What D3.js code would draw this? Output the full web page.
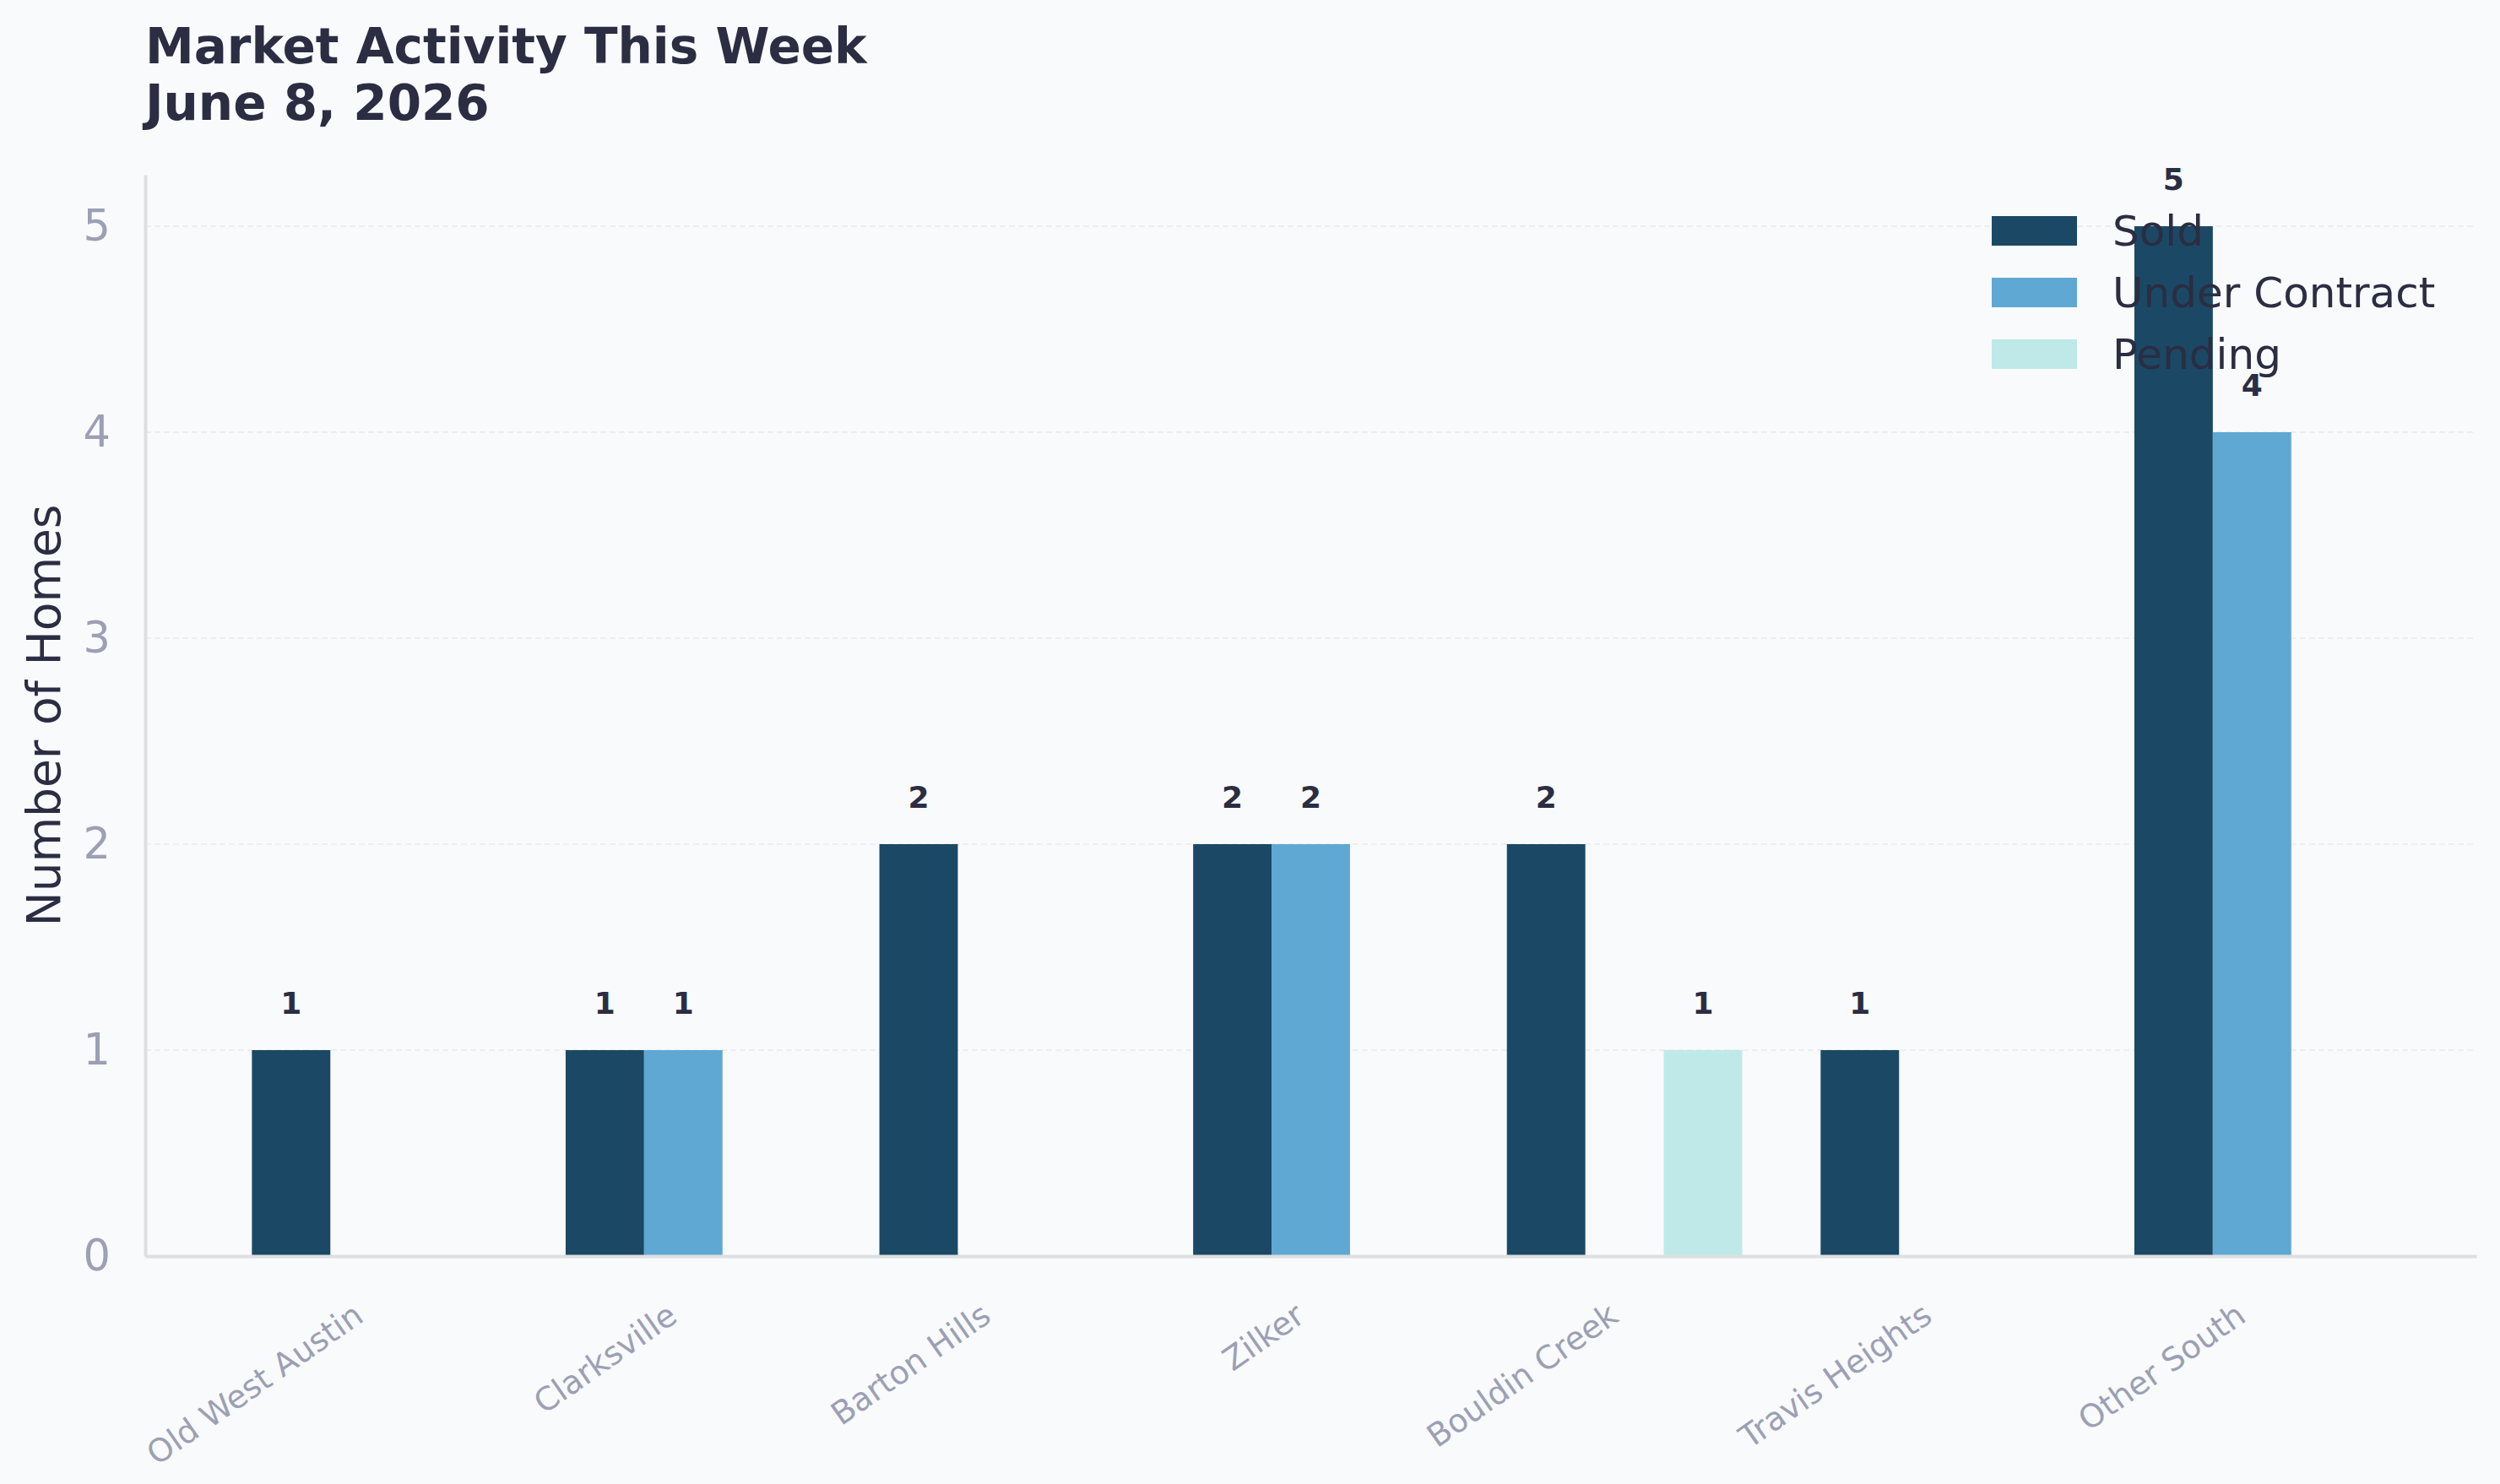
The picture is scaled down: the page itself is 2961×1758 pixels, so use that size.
<!DOCTYPE html>
<html>
<head>
<meta charset="utf-8">
<title>Market Activity This Week</title>
<script src="https://cdn.jsdelivr.net/npm/d3@7"></script>
<style>
    body { margin: 0; background: #f9fafc; }
    #chart-area { width: 2961px; height: 1758px; }
    text { font-family: "DejaVu Sans", sans-serif; }
</style>
</head>
<body>
<div id="chart-area"></div>
<script>

// chart data
let neighborhoods = ["Old West Austin", "Clarksville", "Barton Hills", "Zilker", "Bouldin Creek", "Travis Heights", "Other South"];
let seriesNames = ["Sold", "Under Contract", "Pending"];
let soldCounts = [1, 1, 2, 2, 2, 1, 5];
let underContractCounts = [0, 1, 0, 2, 0, 0, 4];
let pendingCounts = [0, 0, 0, 0, 1, 0, 0];
let yTicks = [0, 1, 2, 3, 4, 5];
let titleLines = ["Market Activity This Week", "June 8, 2026"];

let seriesColors = ["#1b4965", "#5fa8d3", "#bee9e8"];


/*
 * GroupedBarVis - Object constructor function
 * @param _parentElement 	-- the HTML element in which to draw the visualization
 */

class GroupedBarVis {

    constructor(_parentElement) {
        this.parentElement = _parentElement;
        this.displayData = [];

        this.initVis();
    }


    /*
     * Initialize visualization (static content, e.g. SVG area or axes)
     */

    initVis() {
        let vis = this;

        vis.margin = {top: 207, right: 28, bottom: 270, left: 172};
        vis.width = 2961 - vis.margin.left - vis.margin.right;
        vis.height = 1758 - vis.margin.top - vis.margin.bottom;

        vis.root = d3.select("#" + vis.parentElement).append("svg")
            .attr("width", 2961)
            .attr("height", 1758)
            .style("background", "#f9fafc");

        // SVG drawing area
        vis.svg = vis.root.append("g")
            .attr("transform", "translate(" + vis.margin.left + "," + vis.margin.top + ")");

        // title, two lines
        vis.root.append("text")
            .attr("class", "title")
            .attr("x", vis.margin.left)
            .attr("y", 75)
            .attr("fill", "#2b2d42")
            .attr("font-size", 58)
            .attr("font-weight", "bold")
            .selectAll("tspan")
            .data(titleLines)
            .enter().append("tspan")
            .attr("x", vis.margin.left)
            .attr("dy", (d, i) => i === 0 ? 0 : 67)
            .text(d => d);

        // scales
        vis.x = d3.scaleBand()
            .domain(neighborhoods)
            .range([0, vis.width])
            .paddingInner(0.25)
            .paddingOuter(0.34);
        vis.xSub = d3.scaleBand()
            .domain(seriesNames)
            .range([0, vis.x.bandwidth()]);
        vis.y = d3.scaleLinear()
            .domain([0, 5.25])
            .range([vis.height, 0]);
        vis.color = d3.scaleOrdinal()
            .domain(seriesNames)
            .range(seriesColors);

        // gridlines
        vis.svg.append("g")
            .attr("class", "grid")
            .selectAll("line")
            .data(yTicks.filter(d => d > 0))
            .enter().append("line")
            .attr("x1", 0)
            .attr("x2", vis.width)
            .attr("y1", d => vis.y(d))
            .attr("y2", d => vis.y(d))
            .attr("stroke", "#eceef1")
            .attr("stroke-width", 2)
            .attr("stroke-dasharray", "7,4");

        vis.barGroup = vis.svg.append("g").attr("class", "bars");
        vis.labelGroup = vis.svg.append("g").attr("class", "bar-labels");

        // axes
        vis.xAxis = vis.svg.append("g")
            .attr("class", "axis x-axis")
            .attr("transform", "translate(0," + vis.height + ")");
        vis.yAxis = vis.svg.append("g")
            .attr("class", "axis y-axis");

        // y axis title
        vis.svg.append("text")
            .attr("class", "y-title")
            .attr("transform", `translate(${71 - vis.margin.left}, ${vis.height / 2}) rotate(-90)`)
            .attr("text-anchor", "middle")
            .attr("fill", "#2b2d42")
            .attr("font-size", 55)
            .text("Number of Homes");

        vis.legend = vis.svg.append("g").attr("class", "legend");

        vis.wrangleData();
    }


    /*
     * Data wrangling
     */

    wrangleData() {
        let vis = this;

        let counts = [soldCounts, underContractCounts, pendingCounts];
        neighborhoods.forEach(function (n, i) {
            seriesNames.forEach(function (s, j) {
                vis.displayData.push({neighborhood: n, series: s, value: counts[j][i]});
            });
        });

        vis.updateVis();
    }


    /*
     * The drawing function
     */

    updateVis() {
        let vis = this;

        // only non-zero bars show up
        let shown = vis.displayData.filter(d => d.value > 0);

        vis.barGroup.selectAll("rect")
            .data(shown)
            .enter().append("rect")
            .attr("x", d => vis.x(d.neighborhood) + vis.xSub(d.series))
            .attr("y", d => vis.y(d.value))
            .attr("width", vis.xSub.bandwidth())
            .attr("height", d => vis.y(0) - vis.y(d.value))
            .attr("fill", d => vis.color(d.series));

        vis.labelGroup.selectAll("text")
            .data(shown)
            .enter().append("text")
            .attr("x", d => vis.x(d.neighborhood) + vis.xSub(d.series) + vis.xSub.bandwidth() / 2)
            .attr("y", d => vis.y(d.value) - 43)
            .attr("text-anchor", "middle")
            .attr("font-size", 36)
            .attr("font-weight", "bold")
            .attr("fill", "#2b2d42")
            .text(d => d.value);

        // x axis
        vis.xAxis.call(d3.axisBottom(vis.x).tickSize(0).tickPadding(0));
        vis.xAxis.select(".domain")
            .attr("stroke", "#dedfe0")
            .attr("stroke-width", 4);
        vis.xAxis.selectAll(".tick text")
            .attr("fill", "#9ba0b4")
            .attr("font-size", 38)
            .attr("text-anchor", "end")
            .attr("dy", null)
            .attr("y", 0)
            .attr("transform", "translate(-5,76) rotate(-35)");

        // y axis
        vis.yAxis.call(d3.axisLeft(vis.y)
            .tickValues(yTicks)
            .tickFormat(d3.format("d"))
            .tickSize(0)
            .tickPadding(41));
        vis.yAxis.select(".domain")
            .attr("stroke", "#dedfe0")
            .attr("stroke-width", 4);
        vis.yAxis.selectAll(".tick text")
            .attr("fill", "#9ba0b4")
            .attr("font-size", 51);

        // legend
        let items = vis.legend.selectAll("g")
            .data(seriesNames)
            .enter().append("g")
            .attr("transform", (d, i) => `translate(${2359 - vis.margin.left}, ${256 - vis.margin.top + i * 73})`);
        items.append("rect")
            .attr("width", 101)
            .attr("height", 35)
            .attr("fill", d => vis.color(d));
        items.append("text")
            .attr("x", 143)
            .attr("y", 17.5)
            .attr("dy", "0.35em")
            .attr("font-size", 50)
            .attr("fill", "#2b2d42")
            .text(d => d);

        vis.svg.selectAll(".axis").attr("font-family", "DejaVu Sans");
    }
}

let barVis = new GroupedBarVis("chart-area");

</script>
</body>
</html>
